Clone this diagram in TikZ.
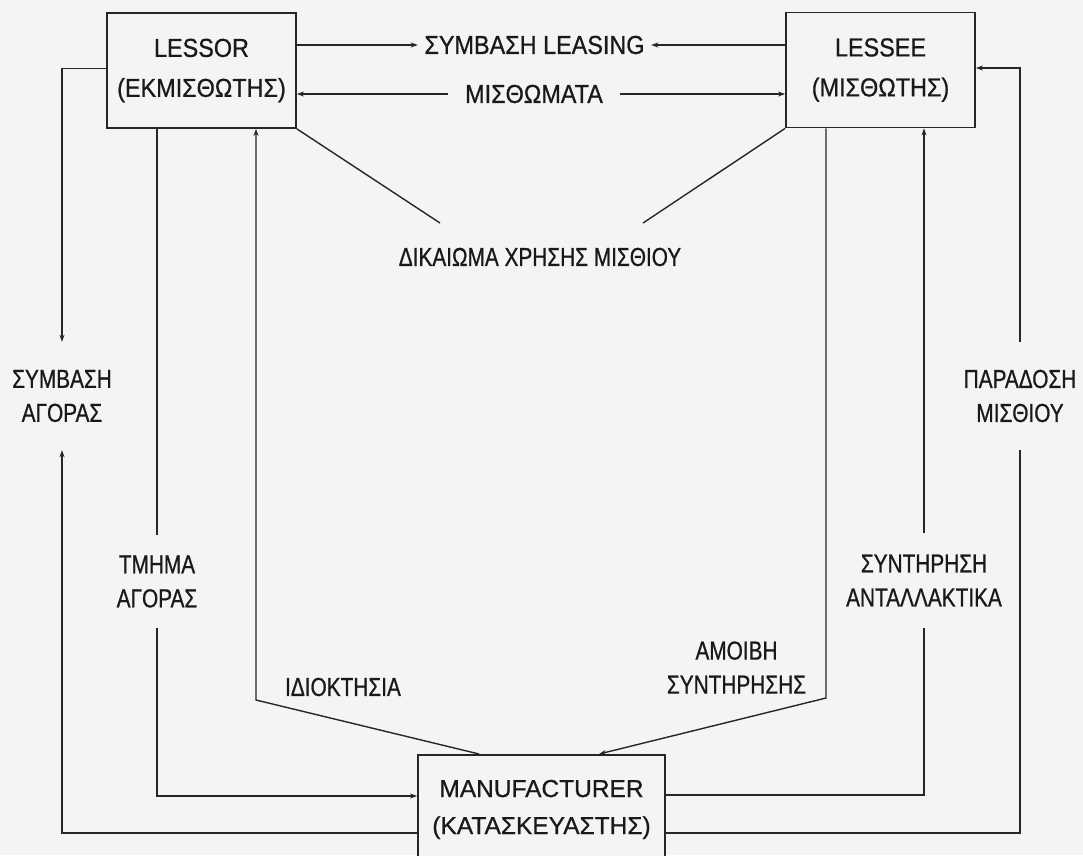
\documentclass[tikz,border=0pt]{standalone}
\usepackage{fontspec}
\setmainfont{Liberation Sans}[FakeBold=0.7]
\newfontfamily\boxfont{Liberation Sans}[FakeStretch=0.9, FakeBold=0.7]
\newfontfamily\tagfont{Liberation Sans}[FakeStretch=0.8, FakeBold=0.7]
\usetikzlibrary{arrows.meta, positioning, calc}
\definecolor{paper}{RGB}{244,244,244}
\colorlet{ink}{black!85}

\begin{document}
\begin{tikzpicture}[x=1pt, y=-1pt,
    party/.style={draw=ink, line width=1.8pt, fill=paper, align=center, inner sep=0pt,
      minimum width=189pt, minimum height=115pt, text=black!90,
      font=\boxfont\fontsize{26}{40}\selectfont},
    tag/.style={align=center, inner sep=0pt, text=black!90, font=\tagfont\fontsize{26}{34}\selectfont},
    toptag/.style={align=center, inner sep=0pt, text=black!90, font=\boxfont\fontsize{26}{34}\selectfont},
    wire/.style={draw=ink, line width=1.4pt},
    flow/.style={wire, -{Stealth[length=7pt, width=5pt]}}]
  \useasboundingbox (0,0) rectangle (1083,855);
  \fill[paper] (0,0) rectangle (1083,855);
  \clip (0,0) rectangle (1083,855);

  % the three parties
  \node[party] (lessor) at (201.5,70.5) {LESSOR\\(ΕΚΜΙΣΘΩΤΗΣ)};
  \node[party] (lessee) at (880.5,70) {LESSEE\\(ΜΙΣΘΩΤΗΣ)};
  \node[party, anchor=north, minimum width=247pt, minimum height=0pt, inner ysep=25pt,
    font=\fontsize{24.5}{37}\selectfont] (maker) at (541.5,754) {MANUFACTURER\\(ΚΑΤΑΣΚΕΥΑΣΤΗΣ)};

  % labels
  \node[toptag, minimum width=233pt] (leasing) at (534.5,45) {ΣΥΜΒΑΣΗ LEASING};
  \node[toptag, minimum width=172pt] (rent) at (534,94) {ΜΙΣΘΩΜΑΤΑ};
  \node[tag] (userights) at (540,257) {ΔΙΚΑΙΩΜΑ ΧΡΗΣΗΣ ΜΙΣΘΙΟΥ};
  \node[tag, minimum height=108pt] (buycontract) at (62,396) {ΣΥΜΒΑΣΗ\\ΑΓΟΡΑΣ};
  \node[tag, minimum height=108pt] (delivery) at (1020,396) {ΠΑΡΑΔΟΣΗ\\ΜΙΣΘΙΟΥ};
  \node[tag, minimum height=93pt] (buydept) at (157,581.5) {ΤΜΗΜΑ\\ΑΓΟΡΑΣ};
  \node[tag, minimum height=95pt] (service) at (924,580.5) {ΣΥΝΤΗΡΗΣΗ\\ΑΝΤΑΛΛΑΚΤΙΚΑ};
  \node[tag] (ownership) at (343,687) {ΙΔΙΟΚΤΗΣΙΑ};
  \node[tag] (servicefee) at (736.5,667.5) {ΑΜΟΙΒΗ\\ΣΥΝΤΗΡΗΣΗΣ};

  \coordinate (useL) at (440,223);
  \coordinate (useR) at (643,223);
  \coordinate (ownbend) at (256,700);
  \coordinate (feebend) at (826,698);

  % contract and rents between lessor and lessee
  \draw[flow] (lessor.east |- leasing) -- (leasing.west);
  \draw[flow] (lessee.west |- leasing) -- (leasing.east);
  \draw[flow] (rent.west) -- (lessor.east |- rent);
  \draw[flow] (rent.east) -- (lessee.west |- rent);
  \draw[wire] (lessor.south east) -- (useL);
  \draw[wire] (lessee.south west) -- (useR);

  % lessor side
  \draw[flow] ([yshift=2pt]lessor.west) -| (buycontract.north);
  \draw[flow] ($(maker.north west)+(0,79)$) -| (buycontract.south);
  \draw[wire] (lessor.south -| buydept) -- (buydept.north);
  \draw[flow] (buydept.south) |- ($(maker.north west)+(0,42)$);
  \draw[flow] ($(maker.north west)+(62,0)$) -- (ownbend) -- (ownbend |- lessor.south);

  % lessee side
  \draw[flow] (feebend |- lessee.south) -- (feebend) -- ($(maker.north west)+(182,0)$);
  \draw[wire] ($(maker.north east)+(0,41)$) -| (service.south);
  \draw[flow] (service.north) -- (service.north |- lessee.south);
  \draw[wire] ($(maker.north east)+(0,79)$) -| (delivery.south);
  \draw[flow] (delivery.north) |- ([yshift=2pt]lessee.east);
\end{tikzpicture}
\end{document}
